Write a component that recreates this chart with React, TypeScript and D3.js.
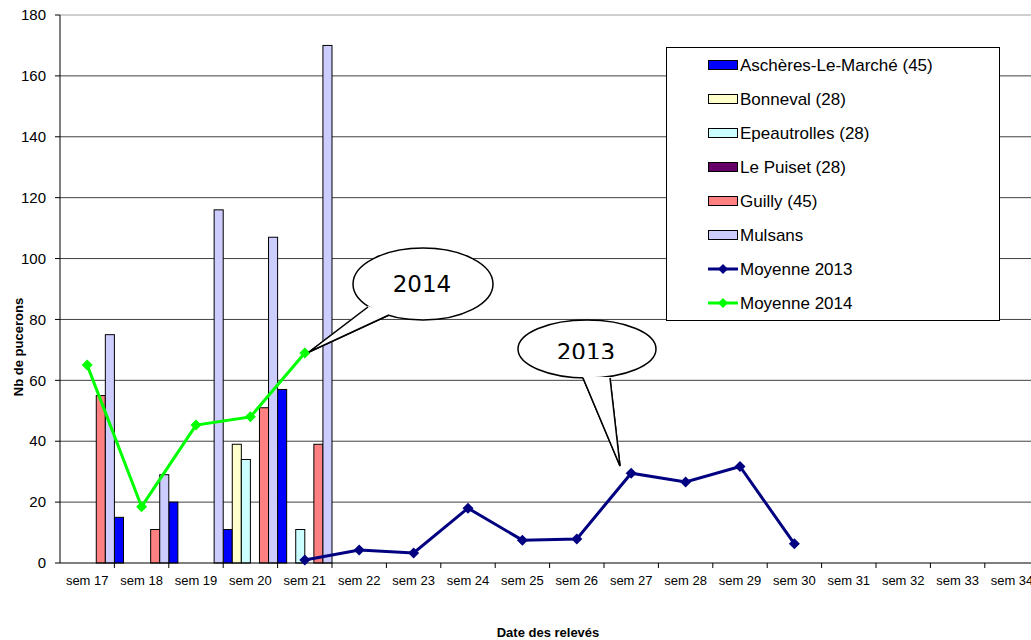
import * as d3 from 'd3'

const categories = [
  'sem 17', 'sem 18', 'sem 19', 'sem 20', 'sem 21', 'sem 22', 'sem 23', 'sem 24', 'sem 25',
  'sem 26', 'sem 27', 'sem 28', 'sem 29', 'sem 30', 'sem 31', 'sem 32', 'sem 33', 'sem 34',
]
const yTicks = [0, 20, 40, 60, 80, 100, 120, 140, 160, 180]

type V = number | null
const aschieres: V[] = [null, 15, 20, 11, 57, null, null, null, null, null, null, null, null, null, null, null, null, null]
const bonneval: V[] = [null, null, null, 39, null, null, null, null, null, null, null, null, null, null, null, null, null, null]
const epeautrolles: V[] = [null, null, null, 34, 11, null, null, null, null, null, null, null, null, null, null, null, null, null]
const lePuiset: V[] = [null, null, null, null, null, null, null, null, null, null, null, null, null, null, null, null, null, null]
const guilly: V[] = [55, 11, null, 51, 39, null, null, null, null, null, null, null, null, null, null, null, null, null]
const mulsans: V[] = [75, 29, 116, 107, 170, null, null, null, null, null, null, null, null, null, null, null, null, null]
const moy2013: V[] = [null, null, null, null, 1, 4.3, 3.3, 18, 7.5, 7.9, 29.5, 26.6, 31.7, 6.3, null, null, null, null]
const moy2014: V[] = [65, 18.5, 45.3, 48, 69, null, null, null, null, null, null, null, null, null, null, null, null, null]

const barSeries = [
  { name: 'Aschères-Le-Marché (45)', values: aschieres, color: '#0000ff' },
  { name: 'Bonneval (28)', values: bonneval, color: '#ffffcc' },
  { name: 'Epeautrolles (28)', values: epeautrolles, color: '#ccffff' },
  { name: 'Le Puiset (28)', values: lePuiset, color: '#660066' },
  { name: 'Guilly (45)', values: guilly, color: '#ff8080' },
  { name: 'Mulsans', values: mulsans, color: '#ccccff' },
]
const lineSeries = [
  { name: 'Moyenne 2013', values: moy2013, color: '#000080' },
  { name: 'Moyenne 2014', values: moy2014, color: '#00ff00' },
]

const W = 1031
const H = 640
const left = 60
const top = 15
const bottom = 563
const right = left + categories.length * 54.4

const font = 'Arial, "Liberation Sans", sans-serif'

function Diamond({ x, y, color, r = 5.5 }: { x: number; y: number; color: string; r?: number }) {
  return <path d={`M${x},${y - r}L${x + r},${y}L${x},${y + r}L${x - r},${y}Z`} fill={color} />
}

export default function App() {
  const x = d3.scaleBand<string>().domain(categories).range([left, right]).padding(0)
  const xs = d3.scaleBand<string>().domain(barSeries.map((s) => s.name)).range([0, x.bandwidth()]).padding(0)
  const y = d3.scaleLinear().domain([0, 180]).range([bottom, top])
  const cx = (i: number) => (x(categories[i]) as number) + x.bandwidth() / 2

  const line = d3
    .line<V>()
    .defined((d) => d != null)
    .x((_, i) => cx(i))
    .y((d) => y(d as number))

  const legendRows = [...barSeries, ...lineSeries]

  return (
    <div style={{ position: 'absolute', left: 0, top: 0 }}>
      <svg width={W} height={H} style={{ display: 'block', fontFamily: font }}>
        <rect width={W} height={H} fill="#fff" />
        <defs>
          <clipPath id="clip2013">
            <rect x={500} y={300} width={200} height={59} />
          </clipPath>
        </defs>

        {/* gridlines */}
        {yTicks.slice(1).map((t) => (
          <line key={t} x1={left} x2={W} y1={y(t)} y2={y(t)} stroke={t === 180 ? '#a0a0a0' : '#404040'} strokeWidth={1} />
        ))}

        {/* bars */}
        {barSeries.map((s) =>
          s.values.map((v, i) =>
            v == null ? null : (
              <rect
                key={s.name + i}
                x={(x(categories[i]) as number) + (xs(s.name) as number)}
                y={y(v)}
                width={xs.bandwidth()}
                height={bottom - y(v)}
                fill={s.color}
                stroke="#000"
                strokeWidth={1}
              />
            ),
          ),
        )}

        {/* axes */}
        <line x1={left} x2={left} y1={top} y2={bottom} stroke="#000" />
        <line x1={left} x2={W} y1={bottom} y2={bottom} stroke="#000" />
        {yTicks.map((t) => (
          <g key={t}>
            <line x1={left - 5} x2={left} y1={y(t)} y2={y(t)} stroke="#000" />
            <text x={46} y={y(t)} dy="0.35em" textAnchor="end" fontSize={15}>
              {t}
            </text>
          </g>
        ))}
        {categories.map((c, i) => (
          <g key={c}>
            <line x1={(x(c) as number) + x.bandwidth()} x2={(x(c) as number) + x.bandwidth()} y1={bottom} y2={bottom + 5} stroke="#000" />
            <text x={cx(i)} y={585} textAnchor="middle" fontSize={13}>
              {c}
            </text>
          </g>
        ))}
        <text x={548} y={637} textAnchor="middle" fontSize={13} fontWeight="bold">
          Date des relevés
        </text>
        <text transform="translate(23,347) rotate(-90)" textAnchor="middle" fontSize={13} fontWeight="bold">
          Nb de pucerons
        </text>

        {/* lines */}
        {lineSeries.map((s) => (
          <g key={s.name}>
            <path d={line(s.values) || ''} fill="none" stroke={s.color} strokeWidth={3} />
            {s.values.map((v, i) => (v == null ? null : <Diamond key={i} x={cx(i)} y={y(v)} color={s.color} />))}
          </g>
        ))}

        {/* callouts */}
        <g stroke="#000" strokeWidth={1.5} fill="#fff">
          <path d="M368,307 L309,352 L389,315" fill="#fff" />
          <ellipse cx={423} cy={284} rx={70} ry={36} />
          <path d="M368,306 L309,352 L390,314" fill="#fff" stroke="none" />
          <path d="M368,307 L309,352 L389,315" fill="none" />
        </g>
        <text x={422} y={292} textAnchor="middle" fontSize={23} fontFamily="Verdana, 'DejaVu Sans', sans-serif" fill="#000">
          2014
        </text>
        <g stroke="#000" strokeWidth={1.5}>
          <path d="M583,378 L620,466 L610,378" fill="#fff" />
          <ellipse cx={587} cy={349} rx={69} ry={29} fill="#fff" />
          <path d="M583,377 L620,466 L610,377" fill="#fff" stroke="none" />
          <path d="M583,378 L620,466 L610,378" fill="none" />
        </g>
        <text x={586} y={360} textAnchor="middle" fontSize={23} fontFamily="Verdana, 'DejaVu Sans', sans-serif" fill="#000" clipPath="url(#clip2013)">
          2013
        </text>

        {/* legend */}
        <rect x={666.5} y={47.5} width={333} height={273} fill="#fff" stroke="#000" />
        {legendRows.map((s, i) => {
          const ry = 65 + i * 34
          const isLine = i >= barSeries.length
          return (
            <g key={s.name}>
              {isLine ? (
                <>
                  <line x1={708} x2={738} y1={ry} y2={ry} stroke={s.color} strokeWidth={3} />
                  <Diamond x={723} y={ry} color={s.color} r={5} />
                </>
              ) : (
                <rect x={708.5} y={ry - 4.5} width={29} height={9} fill={s.color} stroke="#000" />
              )}
              <text x={740} y={ry} dy="0.35em" fontSize={17}>
                {s.name}
              </text>
            </g>
          )
        })}
      </svg>
    </div>
  )
}
